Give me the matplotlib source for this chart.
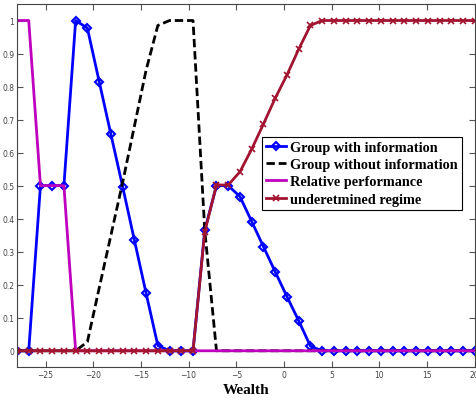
import matplotlib
matplotlib.use("Agg")
import matplotlib.pyplot as plt

# Wealth grid (40 evenly spaced samples from -28 to 20)
wealth = [-28.00, -26.77, -25.54, -24.31, -23.08, -21.85, -20.62, -19.38, -18.15, -16.92,
          -15.69, -14.46, -13.23, -12.00, -10.77, -9.54, -8.31, -7.08, -5.85, -4.62,
          -3.38, -2.15, -0.92, 0.31, 1.54, 2.77, 4.00, 5.23, 6.46, 7.69,
          8.92, 10.15, 11.38, 12.62, 13.85, 15.08, 16.31, 17.54, 18.77, 20.00]

with_info = [0, 0, 0.5, 0.5, 0.5, 1.0, 0.977, 0.815, 0.655, 0.497,
             0.335, 0.174, 0.016, 0, 0, 0, 0.365, 0.5, 0.5, 0.467,
             0.391, 0.315, 0.239, 0.164, 0.091, 0.014, 0, 0, 0, 0,
             0, 0, 0, 0, 0, 0, 0, 0, 0, 0]

without_info = [0, 0, 0, 0, 0, 0, 0.027, 0.19, 0.35, 0.51,
                0.68, 0.85, 0.985, 1.0, 1.0, 1.0, 0.365, 0, 0, 0,
                0, 0, 0, 0, 0, 0, 0, 0, 0, 0,
                0, 0, 0, 0, 0, 0, 0, 0, 0, 0]

relative_perf = [1, 1, 0.5, 0.5, 0.5, 0, 0, 0, 0, 0,
                 0, 0, 0, 0, 0, 0, 0, 0, 0, 0,
                 0, 0, 0, 0, 0, 0, 0, 0, 0, 0,
                 0, 0, 0, 0, 0, 0, 0, 0, 0, 0]

undetermined = [0, 0, 0, 0, 0, 0, 0, 0, 0, 0,
                0, 0, 0, 0, 0, 0, 0.36, 0.502, 0.502, 0.542,
                0.611, 0.687, 0.765, 0.835, 0.913, 0.985, 1.0, 1.0, 1.0, 1.0,
                1.0, 1.0, 1.0, 1.0, 1.0, 1.0, 1.0, 1.0, 1.0, 1.0]

labels = ["Group with information", "Group without information",
          "Relative performance", "underetmined regime"]

x_ticks = [-25, -20, -15, -10, -5, 0, 5, 10, 15, 20]
y_ticks = [0, 0.1, 0.2, 0.3, 0.4, 0.5, 0.6, 0.7, 0.8, 0.9, 1]
y_tick_labels = ["0", "0.1", "0.2", "0.3", "0.4", "0.5", "0.6", "0.7", "0.8", "0.9", "1"]

fig = plt.figure(figsize=(4.76, 4.02), dpi=100)
ax = fig.add_axes([17 / 476, 1 - 368.3 / 402, (474.7 - 17) / 476, (368.3 - 5) / 402])

ax.plot(wealth, with_info, color="#0000FF", lw=2.0, marker="D", ms=4.5,
        mfc="none", mec="#0000FF", mew=1.5, label=labels[0])
ax.plot(wealth, without_info, color="black", lw=2.0, ls=(0, (3, 1.4)),
        label=labels[1])
ax.plot(wealth, relative_perf, color="#BF00BF", lw=2.0, label=labels[2])
ax.plot(wealth, undetermined, color="#A2142F", lw=2.0, marker="x", ms=4.5,
        mew=1.2, label=labels[3])

ax.set_xlim(-28, 20)
ax.set_ylim(-0.05, 1.05)
ax.set_xticks(x_ticks)
ax.set_yticks(y_ticks)
ax.set_yticklabels(y_tick_labels)
ax.tick_params(direction="in", length=4, width=0.8, color="#555555",
               labelsize=5.5, labelcolor="#444444", top=True, right=True,
               pad=2)
for s in ax.spines.values():
    s.set_color("#444444")
    s.set_linewidth(0.8)

ax.set_xlabel("Wealth", family="Liberation Serif", fontweight="bold",
              fontsize=11, labelpad=3)

leg = ax.legend(loc="upper left", bbox_to_anchor=(262 / 476, 1 - 137.5 / 402),
                bbox_transform=fig.transFigure, borderaxespad=0,
                prop={"family": "Liberation Serif", "weight": "bold", "size": 10.3},
                frameon=True, fancybox=False, edgecolor="black", framealpha=1,
                handlelength=1.4, handletextpad=0.25, borderpad=0.3,
                labelspacing=0.3, numpoints=1)
leg.get_frame().set_linewidth(0.8)

fig.savefig("out.png", dpi=100)
